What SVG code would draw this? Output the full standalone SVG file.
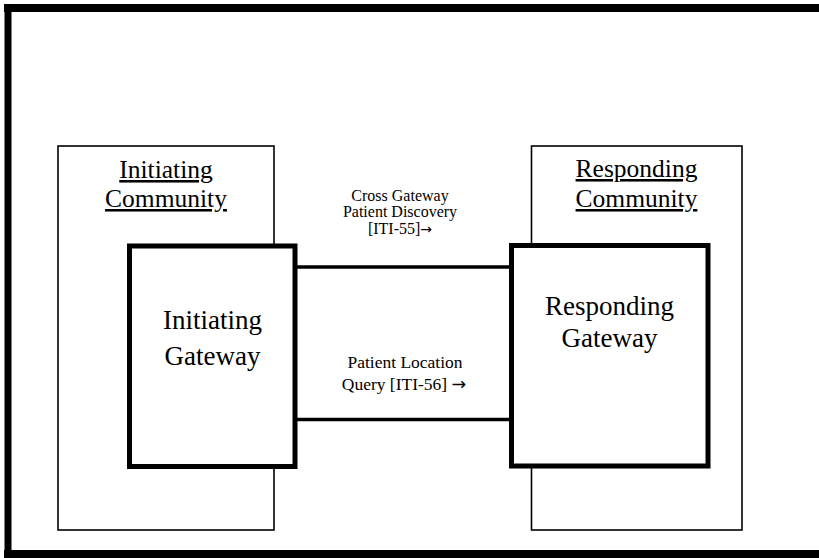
<svg xmlns="http://www.w3.org/2000/svg" width="819" height="558" viewBox="0 0 819 558">
<style>
.frame{stroke:#000;fill:none}
.comm{fill:#fff;stroke:#000;stroke-width:1.6}
.gw{fill:#fff;stroke:#000;stroke-width:5}
.conn{stroke:#000;stroke-width:3.5;fill:none}
text{font-family:"Liberation Serif","Times New Roman",serif;fill:#000;text-anchor:middle}
.ct{font-size:25.5px;text-decoration:underline}
.gt{font-size:27px}
.lt1{font-size:16px}
.lt2{font-size:17.5px}
.ar{font-family:"DejaVu Sans",sans-serif}
.ar1{font-size:14px}
</style>
<rect width="819" height="558" fill="#fff"/>
<g id="frame">
<line class="frame" x1="4" y1="8" x2="819" y2="8" stroke-width="8"/>
<line class="frame" x1="4" y1="554" x2="819" y2="554" stroke-width="8"/>
<line class="frame" x1="8" y1="4" x2="8" y2="558" stroke-width="7"/>
</g>
<g id="initiating-community">
<rect class="comm" x="58" y="146" width="216" height="384"/>
<text class="ct" x="166" y="178">Initiating</text>
<text class="ct" x="166" y="207">Community</text>
</g>
<g id="responding-community">
<rect class="comm" x="531.5" y="146" width="210.5" height="384"/>
<text class="ct" x="636.5" y="177">Responding</text>
<text class="ct" x="636.5" y="207">Community</text>
</g>
<g id="connectors">
<line class="conn" x1="297" y1="267" x2="510" y2="267"/>
<line class="conn" x1="297" y1="419.5" x2="510" y2="419.5"/>
</g>
<g id="initiating-gateway">
<rect class="gw" x="129.5" y="246" width="165.5" height="220.5"/>
<text class="gt" x="212.5" y="329">Initiating</text>
<text class="gt" x="212.5" y="365">Gateway</text>
</g>
<g id="responding-gateway">
<rect class="gw" x="511.5" y="245.5" width="196.5" height="220.5"/>
<text class="gt" x="609.5" y="315">Responding</text>
<text class="gt" x="609.5" y="347">Gateway</text>
</g>
<g id="labels">
<text class="lt1" x="400" y="201">Cross Gateway</text>
<text class="lt1" x="400" y="217">Patient Discovery</text>
<text class="lt1" x="400" y="233.5">[ITI-55]<tspan class="ar ar1">→</tspan></text>
<text class="lt2" x="405" y="368">Patient Location</text>
<text class="lt2" x="404" y="390">Query [ITI-56] <tspan class="ar">→</tspan></text>
</g>
</svg>
